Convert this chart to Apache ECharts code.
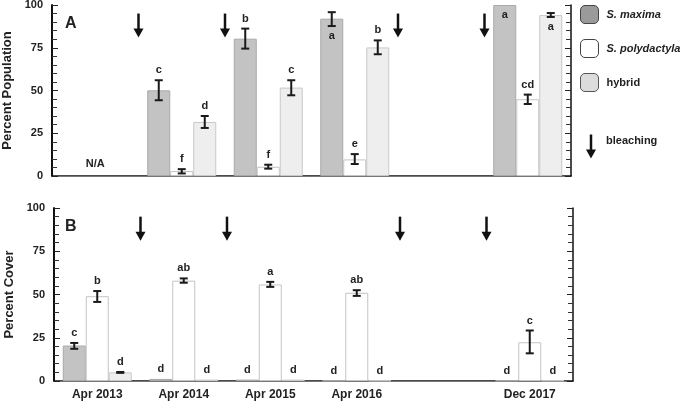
<!DOCTYPE html>
<html><head><meta charset="utf-8">
<script src="https://cdn.jsdelivr.net/npm/echarts@6/dist/echarts.min.js"></script>
<style>html,body{margin:0;padding:0;background:#fff}#c{width:685px;height:402px}</style>
</head><body><div id="c"></div>
<script>
// ---------- data ----------
const categories = ['Apr 2013', 'Apr 2014', 'Apr 2015', 'Apr 2016', '', 'Dec 2017'];
const yTickValues = [0, 25, 50, 75, 100];
const speciesNames = ['S. maxima', 'S. polydactyla', 'hybrid'];

// Panel A: Percent Population
const popMaxima      = [null, 50.1, 80.3, 92.0, null, 100];
const popMaximaLo    = [null, 44.3, 74.5, 87.7, null, null];
const popMaximaHi    = [null, 56.0, 86.2, 95.8, null, null];
const popMaximaLet   = [null, 'c', 'b', 'a', null, 'a'];
const popMaximaPos   = [null, 'above', 'above', 'below', null, 'below'];

const popPoly        = [null, 2.9, 5.4, 9.7, null, 44.9];
const popPolyLo      = [null, 1.5, 4.3, 7.0, null, 42.1];
const popPolyHi      = [null, 4.0, 6.6, 12.8, null, 47.6];
const popPolyLet     = [null, 'f', 'f', 'e', null, 'cd'];
const popPolyPos     = [null, 'above', 'above', 'above', null, 'above'];

const popHybrid      = [null, 31.6, 51.7, 75.2, null, 94.1];
const popHybridLo    = [null, 28.1, 47.2, 71.2, null, 93.0];
const popHybridHi    = [null, 35.1, 56.0, 79.3, null, 95.3];
const popHybridLet   = [null, 'd', 'c', 'b', null, 'a'];
const popHybridPos   = [null, 'above', 'above', 'above', null, 'below'];

const popNotes       = ['N/A', null, null, null, null, null];

// Panel B: Percent Cover
const covMaxima      = [20.5, 1.2, 0.8, 0.3, null, 0.3];
const covMaximaLo    = [18.6, null, null, null, null, null];
const covMaximaHi    = [22.0, null, null, null, null, null];
const covMaximaLet   = ['c', 'd', 'd', 'd', null, 'd'];

const covPoly        = [49.0, 58.0, 55.8, 51.0, null, 22.4];
const covPolyLo      = [45.7, 56.8, 54.4, 49.2, null, 16.0];
const covPolyHi      = [52.0, 59.3, 57.3, 52.5, null, 29.2];
const covPolyLet     = ['b', 'ab', 'a', 'ab', null, 'c'];

const covHybrid      = [5.0, 0.8, 0.8, 0.3, null, 0.3];
const covHybridLo    = [4.7, null, null, null, null, null];
const covHybridHi    = [5.2, null, null, null, null, null];
const covHybridLet   = ['d', 'd', 'd', 'd', null, 'd'];

// bleaching events: between category index i and i+1
const bleachingAfter = [0, 1, 3, 4];
const arrowTop = 95, arrowBottom = 81;

// ---------- style ----------
const FONT = '"Liberation Sans", Arial, Helvetica, sans-serif';
const BAR_W = 23;
const barStyles = [
  { color: '#c3c3c3', borderColor: '#a9a9a9', borderWidth: 1 },
  { color: '#ffffff', borderColor: '#c4c4c4', borderWidth: 1 },
  { color: '#eeeeee', borderColor: '#c9c9c9', borderWidth: 1 }
];
const legendStyles = [
  { color: '#9a9a9a', borderColor: '#444', borderWidth: 1 },
  { color: '#ffffff', borderColor: '#444', borderWidth: 1 },
  { color: '#dcdcdc', borderColor: '#555', borderWidth: 1 }
];

function xAxesFor(gi, showLabels) {
  return [
    { type: 'category', gridIndex: gi, data: categories, position: 'bottom',
      axisLine: { lineStyle: { color: '#111', width: 1.5 } },
      axisTick: { inside: true, length: 3, lineStyle: { color: '#111', width: 1.5 } },
      axisLabel: { show: showLabels, fontFamily: FONT, fontWeight: 'bold', fontSize: 12, color: '#222', margin: 8, interval: 0 } },
    { type: 'category', gridIndex: gi, data: categories, position: 'top',
      axisLine: { lineStyle: { color: '#777', width: 1 } },
      axisTick: { inside: true, length: 3, lineStyle: { color: '#111', width: 1.5 } },
      axisLabel: { show: false } }
  ];
}
function yAxesFor(gi, name) {
  const common = { type: 'value', gridIndex: gi, min: 0, max: 100, interval: 25,
    splitLine: { show: false },
    minorTick: { show: true, splitNumber: 5, length: 5, lineStyle: { color: '#333', width: 1 } },
    axisTick: { show: true, inside: true, length: 6, lineStyle: { color: '#222', width: 1 } } };
  return [
    Object.assign({}, common, { position: 'left', name: name, nameLocation: 'middle', nameGap: 37,
      nameTextStyle: { fontFamily: FONT, fontWeight: 'bold', fontSize: 13, color: '#222' },
      axisLine: { show: true, lineStyle: { color: '#111', width: 2 } },
      axisLabel: { fontFamily: FONT, fontWeight: 'bold', fontSize: 11, color: '#222', margin: 9,
        formatter: v => yTickValues.includes(v) ? String(v) : '' } }),
    Object.assign({}, common, { position: 'right',
      axisLine: { show: true, lineStyle: { color: '#111', width: 1.5 } },
      axisLabel: { show: false } })
  ];
}

function barSeries(k, vals, xi, yi) {
  return { type: 'bar', name: speciesNames[k], xAxisIndex: xi, yAxisIndex: yi,
    data: vals, barWidth: BAR_W, barGap: '0%', itemStyle: barStyles[k], silent: true, z: 2 };
}

function annotSeries(k, vals, lo, hi, letters, pos, xi, yi) {
  return { type: 'custom', xAxisIndex: xi, yAxisIndex: yi, silent: true, z: 5,
    data: categories.map((c, i) => [i, vals[i] == null ? 0 : vals[i]]),
    renderItem: function (params, api) {
      const i = params.dataIndex;
      if (vals[i] == null) return null;
      const p = api.coord([i, vals[i]]);
      const x = p[0] + (k - 1) * BAR_W;
      const yTop = p[1];
      const children = [];
      let yHi = yTop, yLo = yTop;
      if (hi[i] != null) {
        yHi = api.coord([i, hi[i]])[1];
        yLo = api.coord([i, lo[i]])[1];
        const ls = { stroke: '#1a1a1a', lineWidth: 2 };
        children.push({ type: 'line', shape: { x1: x, y1: yLo, x2: x, y2: yHi }, style: ls });
        children.push({ type: 'line', shape: { x1: x - 4, y1: yHi, x2: x + 4, y2: yHi }, style: ls });
        children.push({ type: 'line', shape: { x1: x - 4, y1: yLo, x2: x + 4, y2: yLo }, style: ls });
      }
      if (letters[i]) {
        const place = pos ? pos[i] : 'above';
        const ty = place === 'below' ? yLo + 10 : yHi - 10;
        children.push({ type: 'text', style: { text: letters[i], x: x, y: ty,
          align: 'center', verticalAlign: 'middle',
          font: 'bold 11px ' + FONT, fill: '#222' } });
      }
      return { type: 'group', children: children };
    }
  };
}

function noteSeries(notes, value, xi, yi) {
  return { type: 'custom', xAxisIndex: xi, yAxisIndex: yi, silent: true, z: 5,
    data: categories.map((c, i) => [i, value]),
    renderItem: function (params, api) {
      const i = params.dataIndex;
      if (!notes[i]) return null;
      const p = api.coord([i, value]);
      return { type: 'text', style: { text: notes[i], x: p[0], y: p[1], align: 'center', verticalAlign: 'middle',
        font: 'bold 11px ' + FONT, fill: '#222' } };
    } };
}

function arrowSeries(xi, yi) {
  return { type: 'custom', xAxisIndex: xi, yAxisIndex: yi, silent: true, z: 6,
    data: bleachingAfter.map(b => [b, arrowTop]),
    renderItem: function (params, api) {
      const b = bleachingAfter[params.dataIndex];
      const half = api.size([1, 0])[0] / 2;
      const x = api.coord([b, arrowTop])[0] + half;
      const y1 = api.coord([b, arrowTop])[1];
      const y2 = api.coord([b, arrowBottom])[1];
      const headH = 9;
      return { type: 'group', children: [
        { type: 'line', shape: { x1: x, y1: y1, x2: x, y2: y2 - headH + 1 }, style: { stroke: '#111', lineWidth: 2.5 } },
        { type: 'polygon', shape: { points: [[x - 5, y2 - headH], [x + 5, y2 - headH], [x, y2]] }, style: { fill: '#111' } }
      ] };
    } };
}

const chart = echarts.init(document.getElementById('c'), null, { renderer: 'canvas' });
const option = {
  animation: false,
  grid: [
    { left: 52, top: 5, width: 519, height: 171, containLabel: false, outerBoundsMode: 'none' },
    { left: 54, top: 208, width: 519, height: 173, containLabel: false, outerBoundsMode: 'none' }
  ],
  xAxis: [].concat(xAxesFor(0, false), xAxesFor(1, true)),
  yAxis: [].concat(yAxesFor(0, 'Percent Population'), yAxesFor(1, 'Percent Cover')),
  legend: {
    orient: 'vertical', left: 580, top: 5, padding: 0, itemWidth: 18, itemHeight: 18, itemGap: 15,
    selectedMode: false,
    data: speciesNames.map((n, k) => ({ name: n, icon: 'roundRect', itemStyle: legendStyles[k] })),
    formatter: n => n === 'hybrid' ? '{n|' + n + '}' : '{i|' + n + '}',
    textStyle: { color: '#222', fontFamily: FONT, fontSize: 11, fontWeight: 'bold', padding: [0, 0, 0, 3],
      rich: { i: { fontStyle: 'italic', fontWeight: 'bold', fontFamily: FONT, fontSize: 11, color: '#222' },
              n: { fontWeight: 'bold', fontFamily: FONT, fontSize: 11, color: '#222' } } }
  },
  graphic: [
    { type: 'text', left: 65, top: 16, style: { text: 'A', font: 'bold 16px ' + FONT, fill: '#222' } },
    { type: 'text', left: 65, top: 219, style: { text: 'B', font: 'bold 16px ' + FONT, fill: '#222' } },
    { type: 'group', left: 586, top: 132, children: [
      { type: 'line', shape: { x1: 5, y1: 0, x2: 5, y2: 16 }, style: { stroke: '#111', lineWidth: 2.5 } },
      { type: 'polygon', shape: { points: [[0, 15], [10, 15], [5, 24]] }, style: { fill: '#111' } }
    ] },
    { type: 'text', left: 606, top: 135, style: { text: 'bleaching', font: 'bold 11px ' + FONT, fill: '#222' } }
  ],
  series: [
    barSeries(0, popMaxima, 0, 0), barSeries(1, popPoly, 0, 0), barSeries(2, popHybrid, 0, 0),
    annotSeries(0, popMaxima, popMaximaLo, popMaximaHi, popMaximaLet, popMaximaPos, 0, 0),
    annotSeries(1, popPoly, popPolyLo, popPolyHi, popPolyLet, popPolyPos, 0, 0),
    annotSeries(2, popHybrid, popHybridLo, popHybridHi, popHybridLet, popHybridPos, 0, 0),
    noteSeries(popNotes, 7, 0, 0),
    arrowSeries(0, 0),
    barSeries(0, covMaxima, 2, 2), barSeries(1, covPoly, 2, 2), barSeries(2, covHybrid, 2, 2),
    annotSeries(0, covMaxima, covMaximaLo, covMaximaHi, covMaximaLet, null, 2, 2),
    annotSeries(1, covPoly, covPolyLo, covPolyHi, covPolyLet, null, 2, 2),
    annotSeries(2, covHybrid, covHybridLo, covHybridHi, covHybridLet, null, 2, 2),
    arrowSeries(2, 2)
  ]
};
chart.setOption(option);
</script></body></html>
